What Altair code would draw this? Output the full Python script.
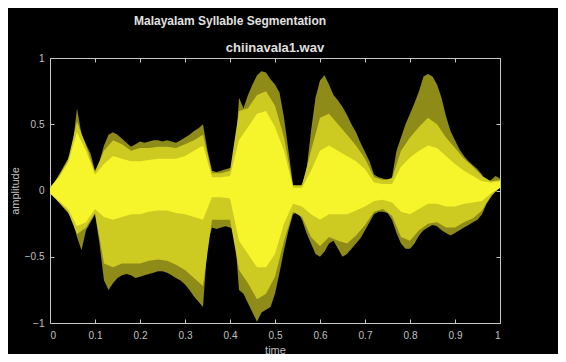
import altair as alt
import pandas as pd

# ---- data -----------------------------------------------------------------
TIME = [round(i * 0.01, 2) for i in range(101)]
UPPER = [0.02, 0.06, 0.12, 0.18, 0.24, 0.33, 0.62, 0.42, 0.35, 0.28,
         0.15, 0.22, 0.34, 0.42, 0.44, 0.42, 0.39, 0.36, 0.33, 0.35,
         0.37, 0.36, 0.37, 0.38, 0.38, 0.37, 0.38, 0.37, 0.36, 0.38,
         0.40, 0.42, 0.45, 0.47, 0.50, 0.30, 0.15, 0.14, 0.15, 0.16,
         0.17, 0.18, 0.70, 0.62, 0.72, 0.80, 0.87, 0.90, 0.89, 0.84,
         0.80, 0.74, 0.55, 0.30, 0.04, 0.00, 0.05, 0.15, 0.45, 0.70,
         0.83, 0.87, 0.80, 0.72, 0.68, 0.63, 0.57, 0.50, 0.44, 0.36,
         0.29, 0.22, 0.12, 0.10, 0.09, 0.08, 0.10, 0.30, 0.40, 0.50,
         0.58, 0.66, 0.75, 0.86, 0.88, 0.86, 0.80, 0.70, 0.56, 0.45,
         0.38, 0.31, 0.26, 0.22, 0.19, 0.16, 0.12, 0.06, 0.08, 0.11,
         0.09]
LOWER = [-0.02, -0.05, -0.09, -0.13, -0.17, -0.22, -0.35, -0.45, -0.30, -0.24,
         -0.18, -0.40, -0.68, -0.75, -0.70, -0.66, -0.64, -0.63, -0.64, -0.66,
         -0.65, -0.64, -0.63, -0.62, -0.61, -0.61, -0.62, -0.64, -0.66, -0.68,
         -0.71, -0.75, -0.80, -0.84, -0.88, -0.40, -0.28, -0.29, -0.28, -0.27,
         -0.28, -0.30, -0.75, -0.78, -0.85, -0.92, -0.99, -0.92, -0.90, -0.88,
         -0.78, -0.62, -0.45, -0.30, -0.18, -0.16, -0.22, -0.32, -0.40, -0.48,
         -0.50, -0.46, -0.40, -0.38, -0.44, -0.50, -0.48, -0.44, -0.40, -0.36,
         -0.30, -0.24, -0.18, -0.16, -0.16, -0.17, -0.22, -0.32, -0.40, -0.44,
         -0.44, -0.40, -0.34, -0.30, -0.28, -0.26, -0.27, -0.30, -0.32, -0.34,
         -0.32, -0.30, -0.28, -0.26, -0.24, -0.22, -0.18, -0.10, -0.05, 0.00,
         0.03]

TIME2 = [round(i * 0.02, 2) for i in range(51)]
MID_UPPER = [0.02, 0.11, 0.23, 0.52, 0.34, 0.14, 0.30, 0.38, 0.35, 0.30,
             0.32, 0.32, 0.33, 0.33, 0.32, 0.35, 0.38, 0.42, 0.13, 0.13,
             0.15, 0.60, 0.62, 0.72, 0.75, 0.64, 0.40, 0.04, 0.04, 0.30,
             0.55, 0.58, 0.50, 0.42, 0.34, 0.24, 0.10, 0.08, 0.09, 0.30,
             0.40, 0.48, 0.55, 0.50, 0.40, 0.32, 0.24, 0.18, 0.11, 0.07,
             0.08]
MID_LOWER = [-0.02, -0.09, -0.16, -0.33, -0.28, -0.17, -0.55, -0.58, -0.55, -0.55,
             -0.55, -0.53, -0.52, -0.53, -0.56, -0.60, -0.66, -0.72, -0.22, -0.22,
             -0.22, -0.60, -0.70, -0.82, -0.78, -0.65, -0.38, -0.16, -0.20, -0.35,
             -0.42, -0.35, -0.38, -0.40, -0.34, -0.26, -0.16, -0.14, -0.19, -0.35,
             -0.38, -0.30, -0.25, -0.24, -0.28, -0.28, -0.24, -0.21, -0.15, -0.04,
             0.02]
CORE_UPPER = [0.02, 0.10, 0.21, 0.44, 0.30, 0.12, 0.20, 0.26, 0.24, 0.22,
              0.22, 0.23, 0.24, 0.24, 0.24, 0.26, 0.30, 0.34, 0.10, 0.10,
              0.11, 0.38, 0.48, 0.58, 0.60, 0.48, 0.30, 0.02, 0.02, 0.15,
              0.30, 0.34, 0.30, 0.26, 0.22, 0.16, 0.06, 0.05, 0.05, 0.18,
              0.25, 0.30, 0.34, 0.32, 0.26, 0.20, 0.15, 0.11, 0.07, 0.06,
              0.07]
CORE_LOWER = [-0.02, -0.08, -0.14, -0.27, -0.24, -0.14, -0.20, -0.22, -0.20, -0.18,
              -0.18, -0.16, -0.15, -0.15, -0.17, -0.18, -0.20, -0.22, -0.05, -0.05,
              -0.06, -0.38, -0.48, -0.58, -0.58, -0.48, -0.25, -0.10, -0.12, -0.18,
              -0.22, -0.18, -0.18, -0.18, -0.15, -0.12, -0.08, -0.07, -0.09, -0.16,
              -0.18, -0.14, -0.10, -0.10, -0.12, -0.12, -0.10, -0.09, -0.08, -0.02,
              0.02]

X_TICKS = [0, 0.1, 0.2, 0.3, 0.4, 0.5, 0.6, 0.7, 0.8, 0.9, 1]
Y_TICKS = [-1, -0.5, 0, 0.5, 1]
MAIN_TITLE = "Malayalam Syllable Segmentation"
SUB_TITLE = "chiinavala1.wav"

# ---- styling ----------------------------------------------------------------
FONT = "Liberation Sans"
FRAME = "#c8c8c8"
LABEL = "#c0c0c0"
OLIVE = "#8e8b18"
MID = "#cdca22"
CORE = "#f6f42a"

outer_df = pd.DataFrame({"t": TIME, "lo": LOWER, "hi": UPPER})
mid_df = pd.DataFrame({"t": TIME2, "lo": MID_LOWER, "hi": MID_UPPER})
core_df = pd.DataFrame({"t": TIME2, "lo": CORE_LOWER, "hi": CORE_UPPER})

xs = alt.Scale(domain=[0, 1], nice=False, zero=False)
ys = alt.Scale(domain=[-1, 1], nice=False, zero=False)

common_axis = dict(domain=False, grid=False, tickSize=4, tickColor=FRAME,
                   tickWidth=1, offset=-4, labelFont=FONT, labelFontSize=10,
                   labelColor=LABEL, titleFont=FONT, titleFontSize=11,
                   titleFontWeight="normal", titleColor=LABEL)

x_bottom = alt.Axis(orient="bottom", values=X_TICKS, format="~g", labelPadding=7,
                    title="time", titlePadding=4, **common_axis)
y_left = alt.Axis(orient="left", values=Y_TICKS, format="~g", labelPadding=6,
                  title="amplitude", titlePadding=4, **common_axis)
x_top = alt.Axis(orient="top", values=X_TICKS, labels=False, title="", **common_axis)
y_right = alt.Axis(orient="right", values=Y_TICKS, labels=False, title="", **common_axis)

outer = alt.Chart(outer_df).mark_area(color=OLIVE, opacity=1).encode(
    x=alt.X("t:Q", scale=xs, axis=x_bottom),
    y=alt.Y("lo:Q", scale=ys, axis=y_left),
    y2="hi:Q",
)
mid = alt.Chart(mid_df).mark_area(color=MID, opacity=1).encode(
    x=alt.X("t:Q", scale=xs, axis=x_top),
    y=alt.Y("lo:Q", scale=ys, axis=y_right),
    y2="hi:Q",
)
core = alt.Chart(core_df).mark_area(color=CORE, opacity=1).encode(
    x=alt.X("t:Q", scale=xs, axis=None),
    y=alt.Y("lo:Q", scale=ys, axis=None),
    y2="hi:Q",
)

title_df = pd.DataFrame({"label": [MAIN_TITLE]})
sub_df = pd.DataFrame({"label": [SUB_TITLE]})
main_txt = alt.Chart(title_df).mark_text(
    font=FONT, fontSize=12, fontWeight="bold", color="#e0e0e0",
    align="center", baseline="middle").encode(
    text="label:N", x=alt.value(180), y=alt.value(-37))
sub_txt = alt.Chart(sub_df).mark_text(
    font=FONT, fontSize=13, fontWeight="bold", color="#e0e0e0",
    align="center", baseline="middle").encode(
    text="label:N", x=alt.value(225), y=alt.value(-10))

chart = alt.layer(outer, mid, core, main_txt, sub_txt).resolve_axis(
    x="independent", y="independent"
).properties(
    width=450, height=265, background="#000000",
    padding={"left": 42, "top": 50, "right": 58, "bottom": 31},
    autosize=alt.AutoSizeParams(type="none"),
).configure_view(stroke=FRAME, strokeWidth=1)

chart.save("out.html", embed_options={"renderer": "svg", "actions": False})
